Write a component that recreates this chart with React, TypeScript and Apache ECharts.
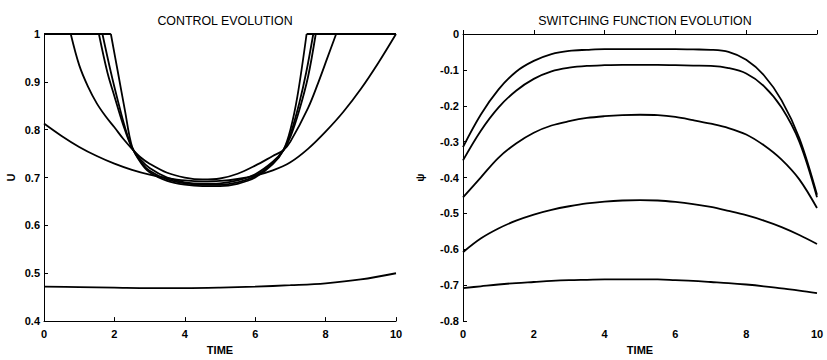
import React, { useEffect, useRef } from "react";
import * as echarts from "echarts";

// ---------- CONTROL EVOLUTION (u vs time) ----------
const U_SAT = 1; // control saturation level
const tA = [0, 0.5, 1, 1.5, 2, 2.5, 3, 3.5, 4, 4.5, 5, 5.5, 6, 6.5, 7, 7.5, 8, 8.5, 9, 9.5, 10];
const uA = [0.813, 0.787, 0.764, 0.745, 0.729, 0.716, 0.706, 0.699, 0.694, 0.692, 0.693, 0.697, 0.704, 0.715, 0.732, 0.76, 0.796, 0.837, 0.885, 0.94, 1.0];

// saturated curves: unsaturated arc only (u = 1 outside it)
const tB = [0.76, 1.0, 1.25, 1.5, 1.75, 2.0, 2.25, 2.5, 2.75, 3.0, 3.5, 4.0, 4.5, 5.0, 5.5, 6.0, 6.5, 6.8, 7.0, 7.5, 7.8, 8.05, 8.3];
const uB = [1, 0.935, 0.89, 0.855, 0.828, 0.805, 0.781, 0.76, 0.742, 0.729, 0.71, 0.7, 0.696, 0.698, 0.708, 0.725, 0.745, 0.757, 0.775, 0.845, 0.9, 0.95, 1];

const tC = [1.56, 1.8, 2.0, 2.25, 2.5, 2.75, 3.0, 3.5, 4.0, 4.5, 5.0, 5.5, 6.0, 6.5, 6.8, 7.0, 7.25, 7.5, 7.72];
const uC = [1, 0.92, 0.87, 0.81, 0.762, 0.737, 0.72, 0.7, 0.69, 0.687, 0.688, 0.694, 0.707, 0.733, 0.757, 0.785, 0.84, 0.91, 1];

const tD = [1.66, 1.9, 2.1, 2.3, 2.5, 2.75, 3.0, 3.5, 4.0, 4.5, 5.0, 5.5, 6.0, 6.5, 6.8, 7.0, 7.25, 7.45, 7.65];
const uD = [1, 0.92, 0.86, 0.805, 0.763, 0.733, 0.714, 0.696, 0.688, 0.685, 0.685, 0.69, 0.703, 0.73, 0.757, 0.79, 0.855, 0.92, 1];

const tE = [1.9, 2.1, 2.3, 2.5, 2.75, 3.0, 3.5, 4.0, 4.5, 5.0, 5.5, 6.0, 6.5, 6.8, 7.0, 7.2, 7.46];
const uE = [1, 0.92, 0.84, 0.765, 0.731, 0.711, 0.693, 0.685, 0.682, 0.682, 0.687, 0.7, 0.728, 0.757, 0.8, 0.87, 1];

const tF = [0, 1, 2, 3, 4, 5, 6, 7, 8, 9, 10];
const uF = [0.472, 0.471, 0.47, 0.469, 0.469, 0.47, 0.472, 0.475, 0.479, 0.487, 0.5];

// ---------- SWITCHING FUNCTION EVOLUTION (psi vs time) ----------
const tPsi = [0, 0.5, 1, 1.5, 2, 2.5, 3, 3.5, 4, 4.5, 5, 5.5, 6, 6.5, 7, 7.5, 8, 8.5, 9, 9.5, 10];
const psi1 = [-0.315, -0.225, -0.155, -0.105, -0.075, -0.056, -0.047, -0.044, -0.042, -0.042, -0.042, -0.042, -0.042, -0.043, -0.044, -0.05, -0.072, -0.115, -0.185, -0.29, -0.448];
const psi2 = [-0.352, -0.27, -0.205, -0.158, -0.125, -0.104, -0.094, -0.089, -0.087, -0.086, -0.086, -0.086, -0.087, -0.088, -0.089, -0.095, -0.11, -0.145, -0.205, -0.3, -0.455];
const psi3 = [-0.455, -0.4, -0.345, -0.305, -0.275, -0.255, -0.243, -0.234, -0.229, -0.226, -0.225, -0.226, -0.231, -0.24, -0.25, -0.262, -0.28, -0.31, -0.35, -0.405, -0.485];
const psi4 = [-0.608, -0.57, -0.542, -0.52, -0.503, -0.49, -0.48, -0.472, -0.467, -0.464, -0.463, -0.464, -0.468, -0.474, -0.482, -0.493, -0.505, -0.52, -0.538, -0.56, -0.585];
const psi5 = [-0.708, -0.703, -0.698, -0.694, -0.691, -0.688, -0.686, -0.685, -0.684, -0.684, -0.684, -0.684, -0.686, -0.688, -0.691, -0.694, -0.698, -0.703, -0.709, -0.715, -0.722];

const xTicks = { min: 0, max: 10, interval: 2 };
const uAxisRange = { min: 0.4, max: 1, interval: 0.1 };
const psiAxisRange = { min: -0.8, max: 0, interval: 0.1 };

const zip = (t: number[], v: number[]) => t.map((x, i) => [x, v[i]]);

export default function App() {
  const ref = useRef<HTMLDivElement>(null);
  useEffect(() => {
    if (!ref.current) return;
    const chart = echarts.init(ref.current, null, { renderer: "svg" });
    const font = "Liberation Sans, Arial, Helvetica, sans-serif";
    const axisLabel = { color: "#000", fontSize: 11, fontWeight: "bold" as const, fontFamily: font };
    const axisLine = { show: true, lineStyle: { color: "#000", width: 1 } };
    const axisTick = { show: true, inside: true, length: 4, lineStyle: { color: "#000" } };
    const nameStyle = { color: "#000", fontSize: 11, fontWeight: "bold" as const, fontFamily: font };
    const mkX = (gridIndex: number) => ({
      type: "value",
      gridIndex,
      ...xTicks,
      name: "TIME",
      nameLocation: "middle",
      nameGap: 20,
      nameTextStyle: nameStyle,
      axisLine,
      axisTick,
      axisLabel: { ...axisLabel, margin: 7 },
      splitLine: { show: false },
    });
    const line = (xi: number, data: number[][], name: string, smooth: number | boolean = 0.35) => ({
      type: "line",
      name,
      xAxisIndex: xi,
      yAxisIndex: xi,
      data,
      showSymbol: false,
      smooth,
      lineStyle: { color: "#000", width: 1.8 },
      clip: true,
    });
    const sat = (t: number[], u: number[], name: string) => [
      line(0, zip(t, u), name),
      line(0, [[xTicks.min, U_SAT], [t[0], U_SAT]], name + "-satL", false),
      line(0, [[t[t.length - 1], U_SAT], [xTicks.max, U_SAT]], name + "-satR", false),
    ];
    chart.setOption({
      animation: false,
      backgroundColor: "#fff",
      title: [
        { text: "CONTROL EVOLUTION", left: 220, top: 10, textAlign: "center", textStyle: { color: "#000", fontSize: 12.4, fontWeight: "normal", fontFamily: font } },
        { text: "SWITCHING FUNCTION EVOLUTION", left: 640, top: 10, textAlign: "center", textStyle: { color: "#000", fontSize: 12.4, fontWeight: "normal", fontFamily: font } },
      ],
      grid: [
        { left: 44, right: 431, top: 34, bottom: 30 },
        { left: 463, right: 10, top: 34, bottom: 30 },
      ],
      xAxis: [mkX(0), mkX(1)],
      yAxis: [
        {
          type: "value", gridIndex: 0, ...uAxisRange,
          name: "U", nameLocation: "middle", nameGap: 28, nameRotate: 90,
          nameTextStyle: nameStyle, axisLine, axisTick,
          axisLabel: { ...axisLabel, margin: 4 }, splitLine: { show: false },
        },
        {
          type: "value", gridIndex: 1, ...psiAxisRange,
          name: "ψ", nameLocation: "middle", nameGap: 38, nameRotate: 90,
          nameTextStyle: nameStyle, axisLine, axisTick,
          axisLabel: { ...axisLabel, margin: 4 }, splitLine: { show: false },
        },
      ],
      series: [
        line(0, zip(tA, uA), "u1"),
        ...sat(tB, uB, "u2"),
        ...sat(tC, uC, "u3"),
        ...sat(tD, uD, "u4"),
        ...sat(tE, uE, "u5"),
        line(0, zip(tF, uF), "u6"),
        line(1, zip(tPsi, psi1), "psi1"),
        line(1, zip(tPsi, psi2), "psi2"),
        line(1, zip(tPsi, psi3), "psi3"),
        line(1, zip(tPsi, psi4), "psi4"),
        line(1, zip(tPsi, psi5), "psi5"),
      ],
    });
    return () => chart.dispose();
  }, []);
  return <div ref={ref} style={{ width: 827, height: 360, position: "absolute", left: 0, top: 0 }} />;
}
